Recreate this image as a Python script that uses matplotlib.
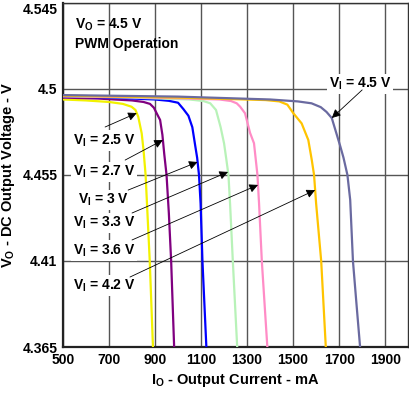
import numpy as np
import matplotlib
matplotlib.use('Agg')
from matplotlib import pyplot as plt

plt.rcParams['font.family'] = 'Liberation Sans'
plt.rcParams['font.weight'] = 'bold'
plt.rcParams['mathtext.fontset'] = 'custom'
plt.rcParams['mathtext.rm'] = 'Liberation Sans:bold'
plt.rcParams['mathtext.bf'] = 'Liberation Sans:bold'
plt.rcParams['mathtext.it'] = 'Liberation Sans:bold'

# curves: output current (mA) vs output voltage (V)
x_25 = [500, 600, 700, 760, 798, 815, 827, 842, 850, 859, 867, 877, 891]
y_25 = [4.4945, 4.4940, 4.4932, 4.4922, 4.4907, 4.4890, 4.4855, 4.4768, 4.468, 4.455, 4.435, 4.41, 4.365]
x_27 = [500, 650, 800, 850, 878, 895, 907, 922, 932, 940, 950, 960, 970, 983]
y_27 = [4.4955, 4.4950, 4.4940, 4.4932, 4.4922, 4.4902, 4.4873, 4.4838, 4.476, 4.466, 4.455, 4.435, 4.41, 4.365]
x_30 = [500, 700, 900, 960, 1000, 1023, 1045, 1062, 1075, 1083, 1091, 1098, 1106, 1123]
y_30 = [4.4962, 4.4955, 4.4945, 4.4938, 4.4928, 4.4895, 4.486, 4.480, 4.470, 4.464, 4.455, 4.44, 4.41, 4.365]
x_33 = [500, 800, 1050, 1110, 1140, 1165, 1185, 1200, 1210, 1219, 1226, 1238, 1257]
y_33 = [4.4962, 4.4955, 4.4945, 4.4937, 4.4925, 4.489, 4.480, 4.4715, 4.463, 4.455, 4.44, 4.41, 4.365]
x_36 = [500, 900, 1180, 1230, 1255, 1270, 1291, 1313, 1330, 1345, 1352, 1364, 1388]
y_36 = [4.4963, 4.4955, 4.4945, 4.4937, 4.4925, 4.4907, 4.4873, 4.477, 4.4716, 4.455, 4.44, 4.41, 4.365]
x_42 = [500, 1000, 1380, 1440, 1475, 1501, 1537, 1566, 1581, 1591, 1600, 1622, 1642]
y_42 = [4.4965, 4.4955, 4.4942, 4.4935, 4.4918, 4.4873, 4.482, 4.4733, 4.4629, 4.455, 4.44, 4.41, 4.365]
x_45 = [500, 1000, 1400, 1520, 1580, 1620, 1645, 1668, 1690, 1705, 1719, 1736, 1748, 1760, 1775, 1791]
y_45 = [4.4968, 4.4960, 4.4945, 4.4935, 4.4925, 4.4905, 4.4880, 4.4848, 4.4760, 4.4700, 4.4640, 4.455, 4.442, 4.41, 4.388, 4.365]

labels = ['2.5', '2.7', '3', '3.3', '3.6', '4.2', '4.5']
colors = ['#f2f200', '#800080', '#0000ff', '#b8f2b8', '#ff8cc6', '#ffc400', '#6a6aa0']
xs = [x_25, x_27, x_30, x_33, x_36, x_42, x_45]
ys = [y_25, y_27, y_30, y_33, y_36, y_42, y_45]

# label text centre, arrow tail, arrow head height
text_pos = [(678, 4.4731), (678, 4.4565), (678, 4.4418), (678, 4.4298),
            (678, 4.4155), (678, 4.3972), (1791, 4.5025)]
tail_pos = [(683, 4.4801), (770, 4.4628), (783, 4.4471), (800, 4.4351),
            (800, 4.4210), (791, 4.4016), (1800, 4.4995)]
head_y = [4.4874, 4.4733, 4.4618, 4.4566, 4.4498, 4.4471, 4.4848]

xticks = [500, 700, 900, 1100, 1300, 1500, 1700, 1900]
yticks = [4.365, 4.41, 4.455, 4.5, 4.545]
ytick_labels = ['4.365', '4.41', '4.455', '4.5', '4.545']

fig = plt.figure(figsize=(4.09, 3.95), dpi=100)
ax = fig.add_axes([0.154, 0.1215, 0.844, 0.871])

for x, y, c in zip(xs, ys, colors):
    ax.plot(x, y, color=c, lw=1.6, zorder=3, solid_joinstyle='round')

for lab, (tx, ty), (sx, sy), hy, x, y in zip(labels, text_pos, tail_pos, head_y, xs, ys):
    hx = np.interp(hy, y[::-1], x[::-1])
    ax.annotate('', xy=(hx, hy), xytext=(sx, sy),
                arrowprops=dict(arrowstyle='-|>', color='k', lw=0.6,
                                mutation_scale=13, shrinkA=0, shrinkB=0),
                zorder=5)
    ax.text(tx, ty, r'$\mathregular{V_I}$ = ' + lab + ' V', ha='center', va='center',
            fontsize=10, fontweight='bold', zorder=4,
            bbox=dict(fc='white', ec='none', pad=1.5))

ax.text(552, 4.5335, r'$\mathregular{V_O}$ = 4.5 V', ha='left', va='center',
        fontsize=10, fontweight='bold')
ax.text(552, 4.5236, 'PWM Operation', ha='left', va='center',
        fontsize=10, fontweight='bold')

ax.set_xlim(500, 2000)
ax.set_ylim(4.365, 4.545)
ax.set_xticks(xticks)
ax.set_yticks(yticks)
ax.set_yticklabels(ytick_labels)
ax.tick_params(length=0, labelsize=10, pad=4)
for t in ax.get_xticklabels() + ax.get_yticklabels():
    t.set_fontweight('bold')
ax.get_yticklabels()[-1].set_va('top')
ax.grid(True, color='#555555', lw=1.0, zorder=1)
ax.set_axisbelow(True)
for s in ['top', 'right']:
    ax.spines[s].set_linewidth(1.0)
    ax.spines[s].set_color('#333333')
for s in ['left', 'bottom']:
    ax.spines[s].set_linewidth(1.6)
    ax.spines[s].set_color('#222222')

ax.set_xlabel(r'$\mathregular{I_O}$ - Output Current - mA', fontsize=10.5,
              fontweight='bold', labelpad=4)
ax.set_ylabel(r'$\mathregular{V_O}$ - DC Output Voltage - V', fontsize=10.5,
              fontweight='bold', labelpad=4)

fig.savefig('out.png', dpi=100)
